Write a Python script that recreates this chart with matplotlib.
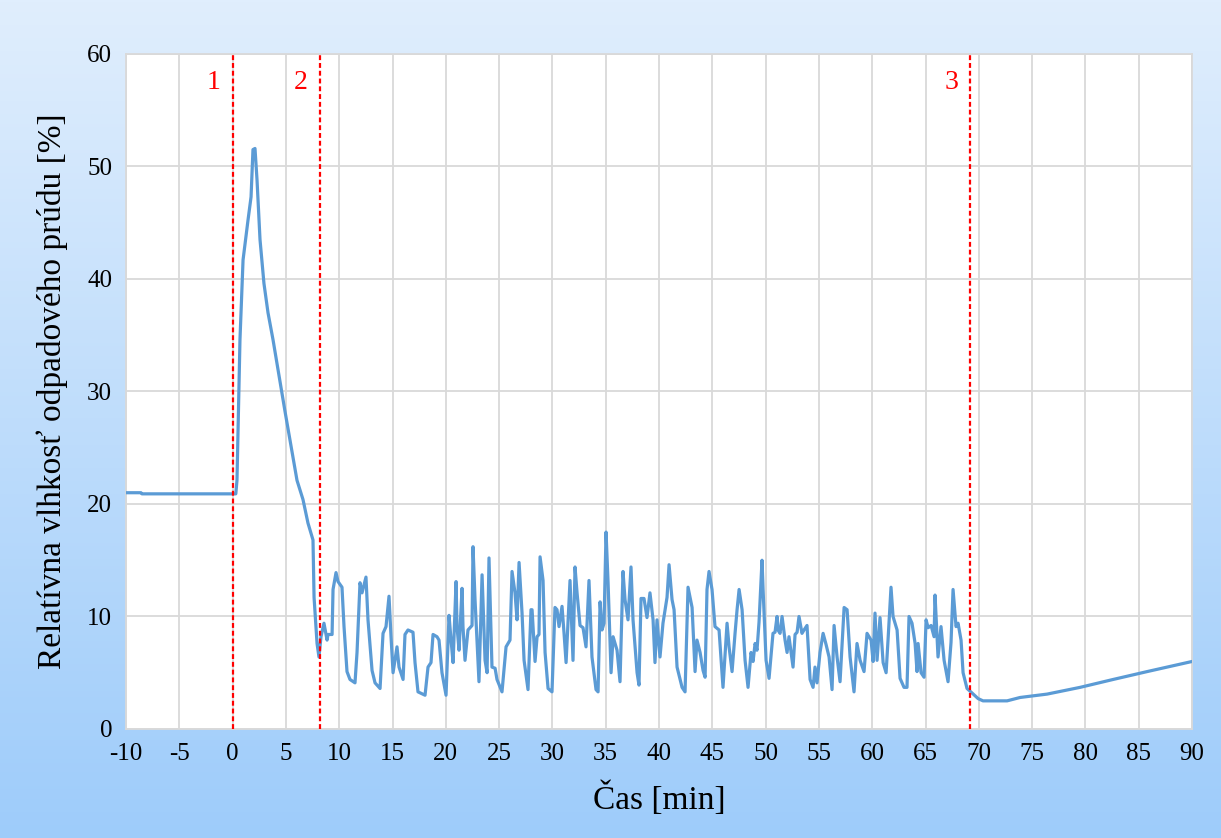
import matplotlib
matplotlib.use("Agg")
import matplotlib.pyplot as plt
import numpy as np

# time [min] and relative humidity of the waste stream [%]
cas = [-10.0, -8.6, -8.5, 0.3, 0.41, 0.69, 0.98, 1.44, 1.73, 1.91, 2.10, 2.29, 2.57,
       2.94, 3.32, 3.79, 4.92, 6.04, 6.60, 7.07, 7.54, 7.64, 7.92, 8.10, 8.29,
       8.57, 8.86, 8.95, 9.33, 9.42, 9.70, 9.89, 10.26, 10.45, 10.73, 11.01, 11.48,
       11.67, 11.95, 12.14, 12.51, 12.70, 13.08, 13.36, 13.83, 14.11, 14.39, 14.67,
       14.86, 15.05, 15.42, 15.61, 15.99, 16.17, 16.45, 16.92, 17.11, 17.39, 18.05,
       18.33, 18.61, 18.80, 19.17, 19.36, 19.64, 20.02, 20.30, 20.49, 20.68, 20.96,
       21.05, 21.24, 21.52, 21.61, 21.80, 22.08, 22.46, 22.55, 22.74, 23.11, 23.40,
       23.68, 23.87, 24.05, 24.33, 24.62, 24.80, 25.27, 25.65, 26.02, 26.21, 26.49,
       26.68, 26.87, 27.15, 27.34, 27.71, 27.99, 28.09, 28.37, 28.56, 28.74, 28.84,
       29.12, 29.31, 29.59, 29.96, 30.24, 30.43, 30.62, 30.90, 31.09, 31.28, 31.65,
       31.93, 32.12, 32.31, 32.59, 32.87, 33.15, 33.43, 33.71, 34.09, 34.28, 34.47,
       34.65, 34.84, 35.03, 35.22, 35.50, 35.69, 36.06, 36.34, 36.62, 36.81, 37.09,
       37.37, 37.56, 37.94, 38.12, 38.31, 38.59, 38.87, 39.15, 39.44, 39.62, 39.81,
       40.09, 40.37, 40.75, 40.94, 41.22, 41.41, 41.69, 42.16, 42.44, 42.72, 43.10,
       43.38, 43.56, 43.85, 44.13, 44.32, 44.50, 44.69, 44.97, 45.25, 45.63, 46.00,
       46.38, 46.57, 46.85, 47.13, 47.32, 47.51, 47.79, 48.07, 48.35, 48.63, 48.82,
       49.01, 49.19, 49.38, 49.66, 49.76, 50.04, 50.32, 50.69, 50.88, 51.07, 51.16,
       51.35, 51.54, 51.82, 52.01, 52.19, 52.57, 52.76, 52.95, 53.13, 53.41, 53.60,
       53.88, 54.17, 54.45, 54.63, 54.82, 55.10, 55.39, 55.67, 55.95, 56.23, 56.42,
       56.70, 56.98, 57.36, 57.64, 57.92, 58.29, 58.57, 58.86, 59.23, 59.51, 59.89,
       60.08, 60.26, 60.45, 60.73, 61.02, 61.30, 61.48, 61.76, 61.95, 62.33, 62.61,
       62.98, 63.26, 63.45, 63.73, 64.02, 64.20, 64.30, 64.58, 64.86, 65.05, 65.24,
       65.52, 65.80, 65.89, 66.17, 66.45, 66.74, 67.11, 67.39, 67.58, 67.86, 68.05,
       68.33, 68.52, 68.89, 69.36, 69.93, 70.39, 72.65, 73.87, 76.40, 79.50, 82.59,
       85.78, 90.0]
vlhkost = [21.0, 21.0, 20.9, 20.9, 22.1, 34.6, 41.7, 45.2, 47.3, 51.5, 51.6, 48.8, 43.5,
           39.6, 37.0, 34.6, 28.2, 22.1, 20.4, 18.3, 16.8, 11.7, 7.6, 6.4, 8.2,
           9.4, 7.9, 8.4, 8.4, 12.4, 13.9, 13.1, 12.6, 9.1, 5.1, 4.4, 4.1,
           6.8, 13.0, 12.1, 13.5, 9.7, 5.2, 4.1, 3.6, 8.5, 9.1, 11.8,
           8.2, 5.0, 7.3, 5.5, 4.4, 8.4, 8.8, 8.6, 5.9, 3.3, 3.0,
           5.5, 5.9, 8.4, 8.2, 7.9, 5.0, 3.0, 10.1, 7.9, 5.9, 13.1,
           9.1, 7.0, 12.5, 9.1, 6.1, 8.8, 9.2, 16.2, 11.5, 4.2, 13.7,
           6.1, 5.0, 15.2, 5.5, 5.4, 4.4, 3.3, 7.3, 7.9, 14.0, 12.1,
           9.7, 14.8, 10.3, 6.1, 3.5, 10.6, 10.6, 6.0, 8.2, 8.4, 15.3,
           13.2, 6.8, 3.6, 3.3, 10.8, 10.6, 9.1, 10.9, 8.5, 5.9, 13.2,
           6.1, 14.4, 12.1, 9.2, 9.0, 7.3, 13.2, 6.4, 3.5, 3.3, 11.3,
           8.8, 9.4, 17.5, 13.0, 5.0, 8.2, 7.0, 4.2, 14.0, 11.5, 9.7,
           14.4, 9.7, 5.0, 3.9, 11.6, 11.6, 9.9, 12.1, 9.7, 5.9, 9.7,
           6.4, 9.4, 11.7, 14.6, 11.5, 10.6, 5.5, 3.7, 3.3, 12.6, 10.8,
           5.1, 7.9, 6.8, 5.2, 4.6, 12.4, 14.0, 12.4, 9.1, 8.8, 3.7,
           9.4, 7.3, 5.1, 8.5, 10.6, 12.4, 10.6, 6.1, 3.7, 6.8, 6.0,
           7.6, 7.0, 9.5, 15.0, 12.4, 6.1, 4.5, 8.5, 8.6, 10.0, 8.8,
           8.5, 10.0, 7.9, 6.8, 8.2, 5.5, 8.4, 8.6, 10.0, 8.5, 8.8,
           9.2, 4.4, 3.7, 5.5, 4.1, 6.8, 8.5, 7.5, 6.4, 3.5, 9.2,
           6.4, 4.2, 10.8, 10.6, 6.4, 3.3, 7.6, 6.1, 5.1, 8.5, 7.9,
           6.0, 10.3, 6.1, 9.9, 5.9, 5.0, 7.9, 12.6, 10.0, 8.8, 4.5,
           3.7, 3.7, 10.0, 9.4, 7.6, 5.1, 7.6, 5.0, 4.6, 9.7, 9.0,
           9.2, 8.2, 11.9, 6.4, 9.1, 6.1, 4.2, 7.7, 12.4, 9.1, 9.4,
           7.9, 5.0, 3.6, 3.2, 2.7, 2.5, 2.5, 2.8, 3.1, 3.7, 4.4,
           5.1, 6.0]

# process phase boundaries
hranice = [0.0, 8.2, 69.2]
hranice_popisy = ["1", "2", "3"]

x_ticks = list(range(-10, 91, 5))
y_ticks = list(range(0, 61, 10))

plt.rcParams['font.family'] = ['Liberation Serif', 'DejaVu Serif']
plt.rcParams['axes.unicode_minus'] = False

fig = plt.figure(figsize=(12.21, 8.38), dpi=100)

# blue gradient behind everything
bg = fig.add_axes([0, 0, 1, 1], zorder=-10)
grad = np.linspace(0, 1, 256).reshape(-1, 1)
top = np.array([224, 238, 253]) / 255
bottom = np.array([158, 204, 250]) / 255
img = top + (bottom - top) * grad[:, :, None]
bg.imshow(img, aspect='auto', extent=[0, 1, 0, 1], origin='upper')
bg.axis('off')

ax = fig.add_axes([0.1032, 0.1301, 0.8731, 0.8055])
ax.set_facecolor('white')
ax.plot(cas, vlhkost, color='#5B9BD5', linewidth=2.3, zorder=3,
        solid_joinstyle='round', solid_capstyle='round')

for xv, lab in zip(hranice, hranice_popisy):
    ax.axvline(xv, color='#FF0000', linestyle=(0, (2.2, 1.3)), linewidth=1.6, zorder=4)
    ax.text(xv - 1.8, 57.5, lab, color='#FF0000', fontsize=20,
            ha='center', va='center')

ax.set_xlim(-10, 90)
ax.set_ylim(0, 60)
ax.set_xticks(x_ticks)
ax.set_yticks(y_ticks)
ax.grid(True, color='#D9D9D9', linewidth=1.3, zorder=0)
ax.set_axisbelow(True)
ax.tick_params(length=0, labelsize=18, pad=10)
for s in ax.spines.values():
    s.set_color('#D9D9D9')
    s.set_linewidth(1.3)

ax.set_xlabel('Čas [min]', fontsize=24, labelpad=12)
ax.set_ylabel('Relatívna vlhkosť odpadového prúdu [%]', fontsize=24, labelpad=14)

fig.savefig('out.png', dpi=100)
